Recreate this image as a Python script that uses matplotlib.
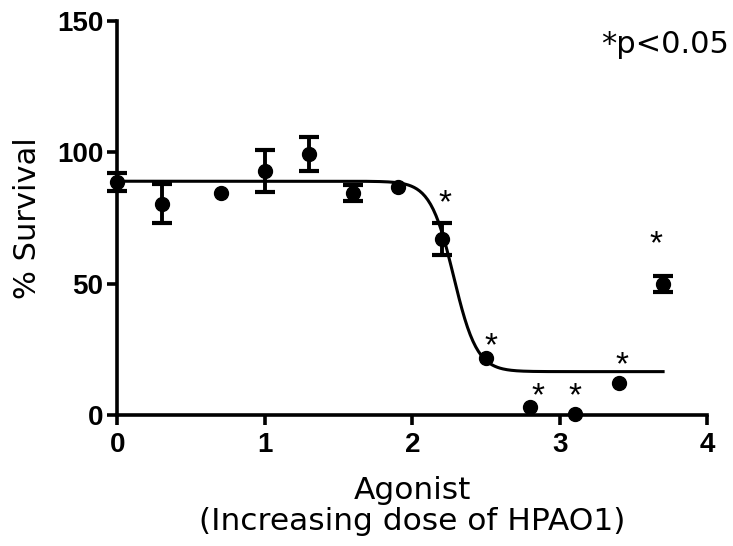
import matplotlib
matplotlib.use("Agg")
import matplotlib.pyplot as plt
import numpy as np

plt.rcParams['font.family'] = ['DejaVu Sans']

# dose (log) vs survival
dose = [0.0, 0.3, 0.7, 1.0, 1.3, 1.6, 1.9, 2.2, 2.5, 2.8, 3.1, 3.4, 3.7]
survival = [88.6, 80.5, 84.5, 93.0, 99.5, 84.5, 86.8, 67.0, 21.5, 3.0, 0.5, 12.2, 50.0]
sem = [3.4, 7.5, 0, 8.0, 6.5, 3.0, 0, 6.0, 0, 0, 0, 0, 3.0]

# significance stars (centre of the asterisk)
star_x = [2.22, 2.53, 2.85, 3.10, 3.42, 3.65]
star_y = [84.5, 30.0, 11.0, 11.0, 23.0, 69.0]

# sigmoidal fit parameters (top, bottom, logEC50, hill slope)
fit_top = 89.0
fit_bottom = 16.5
fit_logec50 = 2.28
fit_hill = 5.5
fit_range = (0.0, 3.7)

fig = plt.figure(figsize=(7.33, 5.46), dpi=100)
ax = fig.add_axes([0.16, 0.24, 0.805, 0.7215])

xs = np.linspace(fit_range[0], fit_range[1], 400)
ys = fit_bottom + (fit_top - fit_bottom) / (1 + 10 ** ((xs - fit_logec50) * fit_hill))
ax.plot(xs, ys, color='black', lw=2.2, zorder=2)

# points, then error bars only where there is one
ax.plot(dose, survival, 'o', color='black', ms=10, zorder=4, clip_on=False)
has_err = [i for i, e in enumerate(sem) if e > 0]
ax.errorbar([dose[i] for i in has_err], [survival[i] for i in has_err],
            yerr=[sem[i] for i in has_err], fmt='none', ecolor='black',
            elinewidth=2.8, capsize=7.5, capthick=3, zorder=3, clip_on=False)

for sx, sy in zip(star_x, star_y):
    ax.annotate('*', (sx, sy), xytext=(0, -14), textcoords='offset points',
                fontsize=24, ha='center', va='baseline', family='Liberation Sans')

ax.set_xlim(0, 4)
ax.set_ylim(0, 150)
ax.set_xticks([0, 1, 2, 3, 4])
ax.set_yticks([0, 50, 100, 150])
for s in ['top', 'right']:
    ax.spines[s].set_visible(False)
for s in ['left', 'bottom']:
    ax.spines[s].set_linewidth(2.6)
ax.tick_params(width=2.6, length=7, labelsize=20, direction='out')
ax.tick_params(axis='x', pad=5)
ax.tick_params(axis='y', pad=3)
for lab in ax.get_xticklabels() + ax.get_yticklabels():
    lab.set_fontweight('bold')
    lab.set_family('Liberation Sans')

ax.set_xlabel('Agonist\n(Increasing dose of HPAO1)', fontsize=22.5, linespacing=1.08)
ax.xaxis.set_label_coords(0.5, -0.155)
ax.set_ylabel('% Survival', fontsize=22)
ax.yaxis.set_label_coords(-0.128, 0.5)

fig.text(0.994, 0.918, '*p<0.05', fontsize=22, ha='right', va='center')

fig.savefig('out.png', dpi=100)
